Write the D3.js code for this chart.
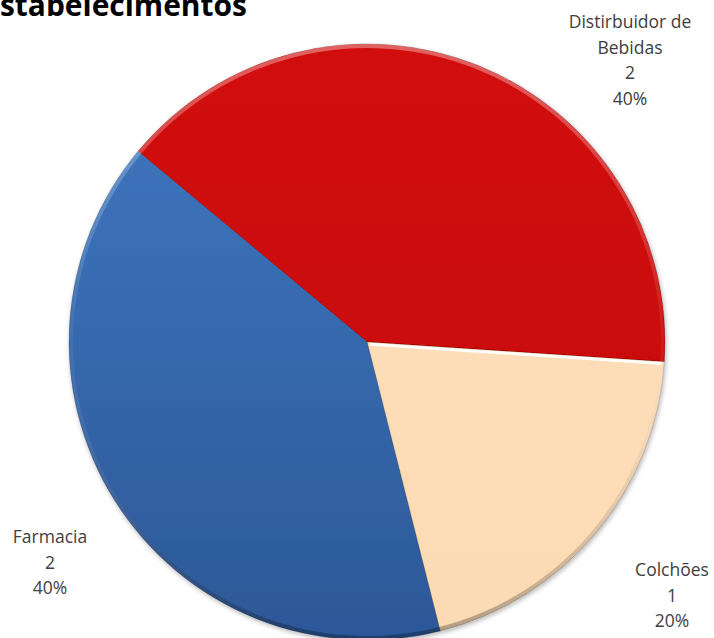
<!DOCTYPE html>
<html><head><meta charset="utf-8">
<script src="https://cdn.jsdelivr.net/npm/d3@7"></script>
<style>body{margin:0;background:#fff;overflow:hidden}</style>
</head><body>
<svg id="c" width="714" height="638"></svg>
<script>
const title = "Estabelecimentos";
const categories = ["Distirbuidor de Bebidas", "Colchões", "Farmacia"];
const labelLines = [["Distirbuidor de", "Bebidas"], ["Colchões"], ["Farmacia"]];
const values = [2, 1, 2];
const percents = ["40%", "20%", "40%"];
const topColors = ["#D20A0A", "#FEE0BE", "#4079C2"];
const botColors = ["#C40404", "#FCDAB3", "#2C5898"];

const svg = d3.select("#c");
const cx = 367, cy = 342, r = 298;
const defs = svg.append("defs");
const flt = defs.append("filter").attr("id","sh").attr("x","-10%").attr("y","-10%").attr("width","120%").attr("height","120%");
flt.append("feGaussianBlur").attr("in","SourceAlpha").attr("stdDeviation",2.5);
flt.append("feOffset").attr("dx",1).attr("dy",2).attr("result","b");
flt.append("feComponentTransfer").append("feFuncA").attr("type","linear").attr("slope",0.3);
const m = flt.append("feMerge"); m.append("feMergeNode"); m.append("feMergeNode").attr("in","SourceGraphic");

topColors.forEach((c,i)=>{
  const g = defs.append("linearGradient").attr("id","g"+i).attr("gradientUnits","userSpaceOnUse")
    .attr("x1",0).attr("y1",-r).attr("x2",0).attr("y2",r);
  g.append("stop").attr("offset","0%").attr("stop-color",c);
  g.append("stop").attr("offset","100%").attr("stop-color",botColors[i]);
});
const eg = defs.append("linearGradient").attr("id","edge").attr("gradientUnits","userSpaceOnUse")
  .attr("x1",0).attr("y1",-r).attr("x2",0).attr("y2",r);
eg.append("stop").attr("offset","0%").attr("stop-color","#fff").attr("stop-opacity",0.35);
eg.append("stop").attr("offset","50%").attr("stop-color","#fff").attr("stop-opacity",0.05);
eg.append("stop").attr("offset","100%").attr("stop-color","#000").attr("stop-opacity",0.3);

const start = -50.2 * Math.PI/180;
const pie = d3.pie().sort(null).value(d=>d).startAngle(start).endAngle(start + 2*Math.PI);
const arcs = pie(values);
const arc = d3.arc().innerRadius(0).outerRadius(r);
const rim = d3.arc().innerRadius(r-4).outerRadius(r);
const gp = svg.append("g").attr("transform",`translate(${cx},${cy})`).attr("filter","url(#sh)");
gp.selectAll("path.s").data(arcs).join("path").attr("class","s")
  .attr("d",arc).attr("fill",(d,i)=>`url(#g${i})`)
  .attr("stroke","rgba(0,0,0,0.18)").attr("stroke-width",1).attr("stroke-linejoin","round");
const go = svg.append("g").attr("transform",`translate(${cx},${cy})`);
go.selectAll("path.r").data(arcs).join("path").attr("class","r")
  .attr("d",rim).attr("fill","url(#edge)");
// highlight on top edge of Colchões slice
const hl = arcs[1];
go.append("line")
  .attr("x1",3*Math.sin(hl.startAngle)).attr("y1",-3*Math.cos(hl.startAngle)+2)
  .attr("x2",(r-3)*Math.sin(hl.startAngle)).attr("y2",-(r-3)*Math.cos(hl.startAngle)+2)
  .attr("stroke","#fff").attr("stroke-width",3).attr("stroke-opacity",0.9);

const tt = svg.append("text").attr("y",16)
  .attr("font-family","'Open Sans', sans-serif").attr("font-weight","bold").attr("font-size",28)
  .attr("fill","#000").text(title);
// fit "stabelecimentos" part to span 0..247 with the leading "E" off-canvas
const probe = svg.append("text").attr("font-family","'Open Sans', sans-serif").attr("font-weight","bold").attr("font-size",28).text(title.slice(1));
const wRest = probe.node().getComputedTextLength();
const fs = 28 * 247 / wRest;
probe.attr("font-size",fs);
tt.attr("font-size",fs);
const wAll = tt.node().getComputedTextLength();
const wRest2 = probe.node().getComputedTextLength();
probe.remove();
tt.attr("x", -(wAll - wRest2));

const labelPos = [[630,22],[672,570],[50,537]];
const lh = 25.5;
arcs.forEach((a,i)=>{
  const lines = labelLines[i].concat([String(values[i]), percents[i]]);
  const t = svg.append("text").attr("text-anchor","middle")
    .attr("font-family","'Open Sans', sans-serif").attr("font-size",17.5).attr("fill","#404040");
  lines.forEach((ln,j)=>{
    t.append("tspan").attr("x",labelPos[i][0]).attr("y",labelPos[i][1]+j*lh).attr("dy","0.35em").text(ln);
  });
});
</script>
</body></html>
